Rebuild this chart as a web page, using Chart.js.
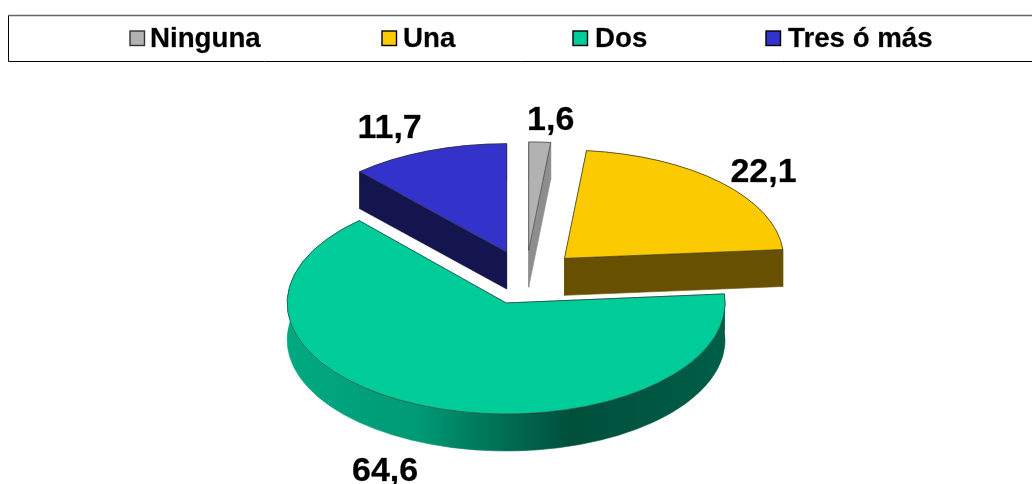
<!DOCTYPE html>
<html>
<head>
<meta charset="utf-8">
<style>html,body{margin:0;padding:0;background:#fff}canvas{display:block}</style>
<script src="https://cdn.jsdelivr.net/npm/chart.js@4/dist/chart.umd.min.js"></script>
</head>
<body>
<canvas id="c" width="1032" height="484"></canvas>
<script>
const categories = ['Ninguna', 'Una', 'Dos', 'Tres ó más'];
const values = [1.6, 22.1, 64.6, 11.7];
const topColors = ['#b2b2b2', '#fbca00', '#00cc99', '#3333cc'];
const sideColors = ['#8e8e8e', '#675100', null, '#14144f'];
const legendX = [130, 382, 573, 766];
const legendTextGap = [20, 21, 22, 22];
const labelOffsets = [[22, -130], [199, -86], [-121, 169], [-117, -123]];
const drawOrder = [0, 3, 1, 2];

const SQUASH = 0.507, BACK_SQUASH = 0.494, DEPTH = 37, EXPLODE = 54;
const FONT = 'bold 27.7px "Liberation Sans", Arial, sans-serif';
const LABEL_FONT = 'bold 34px "Liberation Sans", Arial, sans-serif';

const pie3d = {
  id: 'pie3d',
  beforeDraw(chart) {
    const ctx = chart.ctx;
    ctx.save();
    ctx.fillStyle = '#fff';
    ctx.fillRect(0, 0, chart.width, chart.height);
    // legend frame
    ctx.lineWidth = 1.3;
    ctx.strokeStyle = '#666';
    ctx.beginPath(); ctx.moveTo(8.5, 15.5); ctx.lineTo(1032, 15.5); ctx.stroke();
    ctx.lineWidth = 1;
    ctx.strokeStyle = '#000';
    ctx.beginPath(); ctx.moveTo(8.5, 15.5); ctx.lineTo(8.5, 61.5); ctx.lineTo(1032, 61.5); ctx.stroke();
    ctx.font = FONT;
    ctx.textBaseline = 'alphabetic';
    ctx.textAlign = 'left';
    categories.forEach((name, i) => {
      ctx.fillStyle = topColors[i];
      ctx.fillRect(legendX[i], 31, 14.5, 14.5);
      ctx.strokeStyle = i === 0 ? '#333' : '#000';
      ctx.lineWidth = 1.4;
      ctx.strokeRect(legendX[i], 31, 14.5, 14.5);
      ctx.fillStyle = '#000';
      ctx.fillText(name, legendX[i] + legendTextGap[i], 47);
      ctx.strokeStyle = 'rgba(0,0,0,.6)';
      ctx.lineWidth = 0.35;
      ctx.strokeText(name, legendX[i] + legendTextGap[i], 47);
    });
    ctx.restore();
  },
  beforeDatasetsDraw(chart) {
    const ctx = chart.ctx;
    const arcs = chart.getDatasetMeta(0).data;
    const tealGrad = ctx.createLinearGradient(287, 0, 725, 0);
    tealGrad.addColorStop(0, '#00a981');
    tealGrad.addColorStop(0.3, '#009a75');
    tealGrad.addColorStop(0.42, '#007e5f');
    tealGrad.addColorStop(0.65, '#004f3b');
    tealGrad.addColorStop(1, '#005e47');

    const geom = arcs.map(el => {
      const {x, y, startAngle: s, endAngle: e, outerRadius: r} = el.getProps(['x', 'y', 'startAngle', 'endAngle', 'outerRadius'], true);
      const mid = (s + e) / 2;
      const ax = x + Math.cos(mid) * EXPLODE;
      const ay = y + Math.sin(mid) * EXPLODE * SQUASH;
      const ry = r * (Math.sin(mid) > 0 ? SQUASH : BACK_SQUASH);
      return {s, e, r, ry, ax, ay};
    });

    drawOrder.forEach(i => {
      const {s, e, r, ry, ax, ay} = geom[i];
      const p = t => [ax + Math.cos(t) * r, ay + Math.sin(t) * ry];
      const side = sideColors[i] || tealGrad;
      const paint = () => {
        ctx.fillStyle = side;
        ctx.fill();
        ctx.strokeStyle = side;
        ctx.lineWidth = 0.6;
        ctx.stroke();
      };
      // radial walls
      [s, e].forEach(t => {
        const [px, py] = p(t);
        ctx.beginPath();
        ctx.moveTo(ax, ay);
        ctx.lineTo(px, py);
        ctx.lineTo(px, py + DEPTH);
        ctx.lineTo(ax, ay + DEPTH);
        ctx.closePath();
        paint();
      });
      // outer wall
      ctx.beginPath();
      ctx.ellipse(ax, ay, r, ry, 0, s, e);
      ctx.ellipse(ax, ay + DEPTH, r, ry, 0, e, s, true);
      ctx.closePath();
      paint();
      // top face
      ctx.beginPath();
      ctx.moveTo(ax, ay);
      ctx.ellipse(ax, ay, r, ry, 0, s, e);
      ctx.closePath();
      ctx.fillStyle = topColors[i];
      ctx.fill();
      ctx.strokeStyle = 'rgba(50,50,50,.75)';
      ctx.lineWidth = 0.8;
      ctx.stroke();
    });

    ctx.save();
    ctx.font = LABEL_FONT;
    ctx.textAlign = 'center';
    ctx.textBaseline = 'middle';
    values.forEach((v, i) => {
      const tx = geom[i].ax + labelOffsets[i][0], ty = geom[i].ay + labelOffsets[i][1];
      const txt = v.toFixed(1).replace('.', ',');
      ctx.fillStyle = '#000';
      ctx.fillText(txt, tx, ty);
      ctx.strokeStyle = 'rgba(0,0,0,.6)';
      ctx.lineWidth = 0.35;
      ctx.strokeText(txt, tx, ty);
    });
    ctx.restore();
    return false;
  }
};

new Chart(document.getElementById('c'), {
  type: 'pie',
  data: {
    labels: categories,
    datasets: [{data: values, backgroundColor: topColors}]
  },
  options: {
    responsive: false,
    animation: false,
    radius: 219,
    rotation: 0,
    layout: {padding: {left: 20, top: 71}},
    plugins: {legend: {display: false}, tooltip: {enabled: false}}
  },
  plugins: [pie3d]
});
</script>
</body>
</html>
